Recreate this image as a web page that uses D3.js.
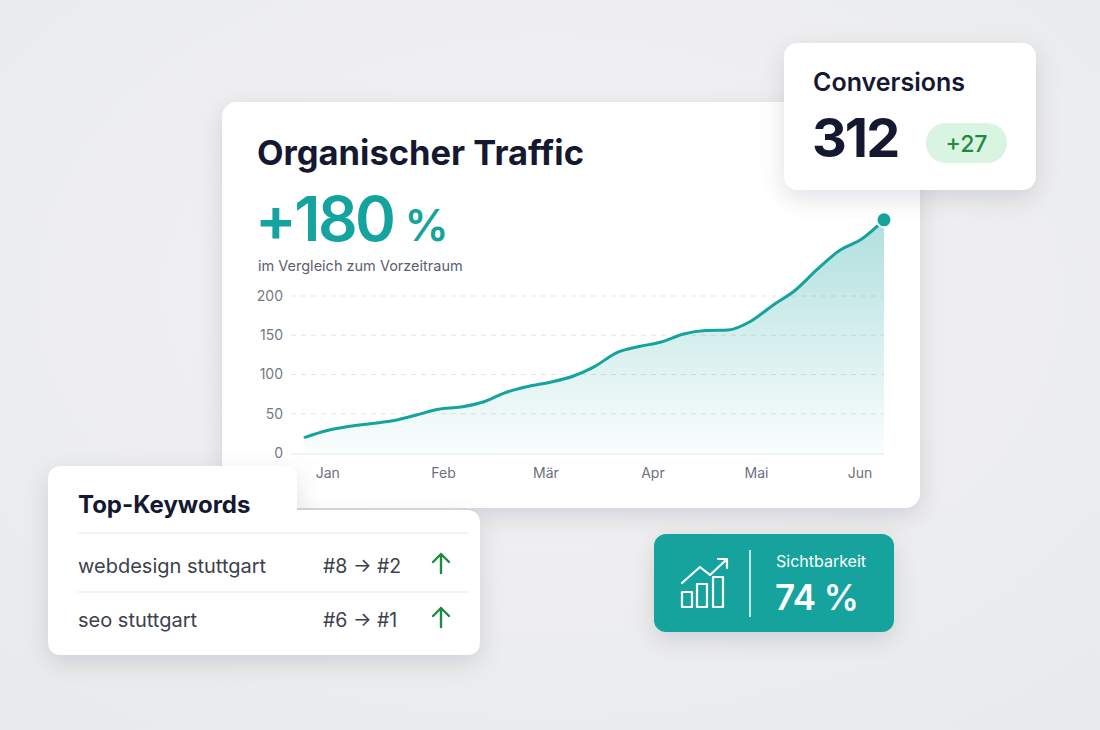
<!DOCTYPE html>
<html>
<head>
<meta charset="utf-8">
<script src="https://cdn.jsdelivr.net/npm/d3@7"></script>
<style>
  html, body { margin: 0; padding: 0; background: #eeeff1; }
  svg { display: block; font-family: Inter, "Noto Sans", sans-serif; }
</style>
</head>
<body>
<script>
// Daten
const trafficValues = [20, 28.7, 34, 37.6, 41.4, 48.4, 55.7, 58.6, 65, 77, 84.7, 90.2, 97.5, 110,
  128, 135.7, 141.4, 151.6, 156, 156.7, 167.5, 188, 207, 233.8, 258, 272.6, 297];
const monthLabels = ["Jan", "Feb", "Mär", "Apr", "Mai", "Jun"];
const monthIndex = [1, 6.2, 10.8, 15.6, 20.25, 24.9];
const yTicks = [0, 50, 100, 150, 200];

const keywords = ["webdesign stuttgart", "seo stuttgart"];
const rankFrom = [8, 6];
const rankTo = [2, 1];

const conversions = 312;
const conversionsDelta = 27;
const trafficGrowth = 180;
const visibility = 74;

const W = 1100, H = 730;
const teal = "#14a39e";
const navy = "#141831";

const svg = d3.select("body").append("svg")
  .attr("width", W)
  .attr("height", H);

const defs = svg.append("defs");

// Hintergrund
const bg = defs.append("radialGradient").attr("id", "bg").attr("cx", "50%").attr("cy", "40%").attr("r", "75%");
bg.append("stop").attr("offset", "0%").attr("stop-color", "#f3f3f5");
bg.append("stop").attr("offset", "100%").attr("stop-color", "#e9eaec");
svg.append("rect").attr("width", W).attr("height", H).attr("fill", "url(#bg)");

const shadow = defs.append("filter").attr("id", "shadow")
  .attr("x", "-20%").attr("y", "-20%").attr("width", "140%").attr("height", "150%");
shadow.append("feDropShadow")
  .attr("dx", 0).attr("dy", 8).attr("stdDeviation", 12)
  .attr("flood-color", "#1d2433").attr("flood-opacity", 0.12);

const areaGrad = defs.append("linearGradient").attr("id", "areaGrad")
  .attr("x1", 0).attr("y1", 0).attr("x2", 0).attr("y2", 1);
areaGrad.append("stop").attr("offset", "0%").attr("stop-color", teal).attr("stop-opacity", 0.34);
areaGrad.append("stop").attr("offset", "100%").attr("stop-color", teal).attr("stop-opacity", 0.02);

// ---------- Hauptkarte: Organischer Traffic ----------
svg.append("rect")
  .attr("x", 222).attr("y", 102).attr("width", 698).attr("height", 406)
  .attr("rx", 15).attr("fill", "#fff").attr("filter", "url(#shadow)");

svg.append("text")
  .attr("x", 257).attr("y", 165)
  .attr("font-size", 34.5).attr("font-weight", 700).attr("fill", navy)
  .text("Organischer Traffic");

const growth = svg.append("text")
  .attr("x", 255).attr("y", 241)
  .attr("fill", teal).attr("font-weight", 600);
growth.append("tspan").attr("font-size", 62).attr("letter-spacing", -2.5).text("+" + trafficGrowth);
growth.append("tspan").attr("font-size", 44).attr("dx", 11).text("%");

svg.append("text")
  .attr("x", 258).attr("y", 271)
  .attr("font-size", 14.5).attr("fill", "#5b6070")
  .text("im Vergleich zum Vorzeitraum");

const x = d3.scaleLinear()
  .domain([0, trafficValues.length - 1])
  .range([305, 884]);

const y = d3.scaleLinear()
  .domain([0, 200])
  .range([453, 296]);

// Gitterlinien
svg.append("g")
  .selectAll("line")
  .data(yTicks.filter(d => d > 0))
  .join("line")
  .attr("x1", 291).attr("x2", 884)
  .attr("y1", d => y(d)).attr("y2", d => y(d))
  .attr("stroke", "#e3e5e9").attr("stroke-dasharray", "5,5");

svg.append("line")
  .attr("x1", 291).attr("x2", 884)
  .attr("y1", y(0) + 1).attr("y2", y(0) + 1)
  .attr("stroke", "#e4e6ea").attr("stroke-width", 1.2);

// Y-Achse
const yAxis = svg.append("g")
  .attr("transform", "translate(283,0)")
  .call(d3.axisLeft(y).tickValues(yTicks).tickSize(0).tickPadding(0));
yAxis.select(".domain").remove();
yAxis.selectAll("text")
  .attr("font-family", "Inter, 'Noto Sans', sans-serif")
  .attr("font-size", 14).attr("fill", "#747986");

// X-Achse (Monate)
const xAxis = svg.append("g")
  .attr("transform", "translate(0," + 468 + ")")
  .call(d3.axisBottom(x).tickValues(monthIndex)
    .tickFormat((d, i) => monthLabels[i]).tickSize(0).tickPadding(0));
xAxis.select(".domain").remove();
xAxis.selectAll("text")
  .attr("font-family", "Inter, 'Noto Sans', sans-serif")
  .attr("font-size", 14).attr("fill", "#6b7080");

const area = d3.area()
  .x((d, i) => x(i))
  .y0(y(0))
  .y1(d => y(d))
  .curve(d3.curveMonotoneX);

const line = d3.line()
  .x((d, i) => x(i))
  .y(d => y(d))
  .curve(d3.curveMonotoneX);

svg.append("path")
  .datum(trafficValues)
  .attr("d", area)
  .attr("fill", "url(#areaGrad)");

svg.append("path")
  .datum(trafficValues)
  .attr("d", line)
  .attr("fill", "none")
  .attr("stroke", teal)
  .attr("stroke-width", 3)
  .attr("stroke-linecap", "round");

const last = trafficValues.length - 1;
svg.append("circle")
  .attr("cx", x(last)).attr("cy", y(trafficValues[last]))
  .attr("r", 7.5)
  .attr("fill", teal).attr("stroke", "#fff").attr("stroke-width", 2);

// ---------- Karte: Conversions ----------
svg.append("rect")
  .attr("x", 784).attr("y", 43).attr("width", 252).attr("height", 147)
  .attr("rx", 14).attr("fill", "#fff").attr("filter", "url(#shadow)");

svg.append("text")
  .attr("x", 813).attr("y", 91)
  .attr("font-size", 25).attr("font-weight", 600).attr("fill", navy)
  .text("Conversions");

svg.append("text")
  .attr("x", 812).attr("y", 157)
  .attr("font-size", 54).attr("font-weight", 700).attr("letter-spacing", -2).attr("fill", navy)
  .text(conversions);

svg.append("rect")
  .attr("x", 926).attr("y", 123).attr("width", 81).attr("height", 40)
  .attr("rx", 20).attr("fill", "#d9f4e1");

svg.append("text")
  .attr("x", 966.5).attr("y", 152)
  .attr("text-anchor", "middle")
  .attr("font-size", 23).attr("font-weight", 500).attr("fill", "#1f8a42")
  .text("+" + conversionsDelta);

// ---------- Karte: Top-Keywords ----------
const r = 14;
const tabPath = d3.path();
tabPath.moveTo(48 + r, 466);
tabPath.lineTo(297 - r, 466);
tabPath.quadraticCurveTo(297, 466, 297, 466 + r);
tabPath.lineTo(297, 510);
tabPath.lineTo(480 - r, 510);
tabPath.quadraticCurveTo(480, 510, 480, 510 + r);
tabPath.lineTo(480, 655 - r);
tabPath.quadraticCurveTo(480, 655, 480 - r, 655);
tabPath.lineTo(48 + r, 655);
tabPath.quadraticCurveTo(48, 655, 48, 655 - r);
tabPath.lineTo(48, 466 + r);
tabPath.quadraticCurveTo(48, 466, 48 + r, 466);
tabPath.closePath();

svg.append("path")
  .attr("d", tabPath.toString())
  .attr("fill", "#fff").attr("filter", "url(#shadow)");

svg.append("text")
  .attr("x", 78).attr("y", 513)
  .attr("font-size", 24).attr("font-weight", 700).attr("fill", navy)
  .text("Top-Keywords");

const rowY = d3.scaleLinear().domain([0, 1]).range([573, 627]);
const sepY = d3.scaleLinear().domain([0, 1]).range([533, 592]);

svg.append("g")
  .selectAll("line")
  .data([0, 1])
  .join("line")
  .attr("x1", 78).attr("x2", 468)
  .attr("y1", d => sepY(d)).attr("y2", d => sepY(d))
  .attr("stroke", "#e6e7ea").attr("stroke-width", 1.2);

const rows = svg.append("g")
  .selectAll("g")
  .data(keywords)
  .join("g")
  .attr("transform", (d, i) => "translate(0," + rowY(i) + ")");

rows.append("text")
  .attr("x", 78)
  .attr("font-size", 20).attr("fill", "#3c414d")
  .text(d => d);

rows.append("text")
  .attr("x", 323)
  .attr("font-size", 19.5).attr("fill", "#3c414d")
  .text((d, i) => "#" + rankFrom[i] + " \u2192 #" + rankTo[i]);

// Pfeil nach oben
rows.append("path")
  .attr("d", "M441,-0 V-19 M433,-11 L441,-19 L449,-11")
  .attr("fill", "none")
  .attr("stroke", "#1f8a42").attr("stroke-width", 2.4)
  .attr("stroke-linecap", "round").attr("stroke-linejoin", "round");

// ---------- Karte: Sichtbarkeit ----------
svg.append("rect")
  .attr("x", 654).attr("y", 534).attr("width", 240).attr("height", 98)
  .attr("rx", 12).attr("fill", teal).attr("filter", "url(#shadow)");

const icon = svg.append("g")
  .attr("fill", "none").attr("stroke", "#fff").attr("stroke-width", 2.2)
  .attr("stroke-linejoin", "round").attr("stroke-linecap", "round");

const bars = [[682, 592], [697, 584], [713, 577]];
icon.selectAll("rect")
  .data(bars)
  .join("rect")
  .attr("x", d => d[0]).attr("y", d => d[1])
  .attr("width", 10).attr("height", d => 607 - d[1]);
icon.append("path").attr("d", "M682,583 L700,567 L710,575 L726,560");
icon.append("path").attr("d", "M718,559 L727,559 L727,568");

svg.append("line")
  .attr("x1", 750).attr("x2", 750).attr("y1", 550).attr("y2", 617)
  .attr("stroke", "#fff").attr("stroke-width", 1.6).attr("opacity", 0.9);

svg.append("text")
  .attr("x", 776).attr("y", 567)
  .attr("font-size", 16).attr("fill", "#fff")
  .text("Sichtbarkeit");

svg.append("text")
  .attr("x", 775).attr("y", 610)
  .attr("font-size", 35).attr("font-weight", 600).attr("letter-spacing", -0.5).attr("fill", "#fff")
  .text(visibility + " %");
</script>
</body>
</html>
